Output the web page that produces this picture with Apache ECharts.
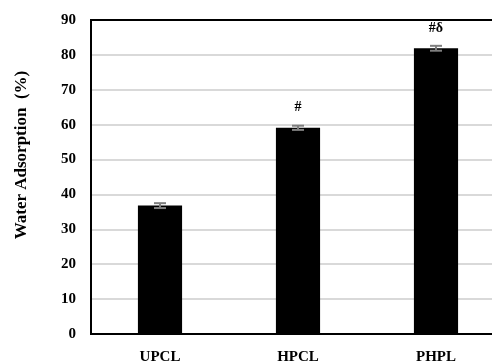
<!DOCTYPE html>
<html><head><meta charset="utf-8">
<script src="https://cdn.jsdelivr.net/npm/echarts@6/dist/echarts.min.js"></script>
<style>html,body{margin:0;padding:0;background:#fff}#c{width:492px;height:364px}</style>
</head><body><div id="c"></div>
<script>
const categories = ['UPCL', 'HPCL', 'PHPL'];
const values = [36.8, 59.1, 81.9];
const errors = [0.7, 0.6, 0.7];
const marks = ['', '#', '#δ'];
const yTicks = [0, 10, 20, 30, 40, 50, 60, 70, 80, 90];

const font = '"Liberation Serif", "Times New Roman", serif';
const chart = echarts.init(document.getElementById('c'));
chart.setOption({
  animation: false,
  grid: { left: 91, top: 20, width: 414, bottom: 30, outerBoundsMode: 'none', containLabel: false, show: true, borderColor: '#000', borderWidth: 2, backgroundColor: 'transparent', z: 3 },
  xAxis: {
    type: 'category', data: categories,
    axisLine: { show: true, lineStyle: { color: '#000', width: 2 } },
    axisTick: { show: false },
    axisLabel: { fontFamily: font, fontWeight: 'bold', fontSize: 15, color: '#000', margin: 16 }
  },
  yAxis: {
    type: 'value', min: yTicks[0], max: yTicks[yTicks.length - 1], interval: 10,
    name: 'Water Adsorption  (%)', nameLocation: 'middle', nameGap: 61,
    nameTextStyle: { fontFamily: font, fontWeight: 'bold', fontSize: 17, color: '#000', padding: [0, 0, 0, 44] },
    axisLine: { show: true, lineStyle: { color: '#000', width: 2 } },
    axisTick: { show: false },
    axisLabel: { fontFamily: font, fontWeight: 'bold', fontSize: 15, color: '#000', margin: 15 },
    splitLine: { showMaxLine: false, lineStyle: { color: '#d9d9d9', width: 2 } }
  },
  series: [
    {
      type: 'bar', data: values, barWidth: '32%',
      itemStyle: { color: '#000' },
      label: {
        show: true, position: 'top', distance: 13,
        formatter: p => marks[p.dataIndex],
        fontFamily: font, fontSize: 14, color: '#000', fontWeight: 'bold'
      }
    },
    {
      type: 'custom', z: 5,
      data: values.map((v, i) => [i, v - errors[i], v + errors[i]]),
      renderItem: function (params, api) {
        const lo = api.coord([api.value(0), api.value(1)]);
        const hi = api.coord([api.value(0), api.value(2)]);
        const x = lo[0], hw = 6;
        const st = { stroke: '#7f7f7f', lineWidth: 2 };
        return { type: 'group', children: [
          { type: 'line', shape: { x1: x, y1: lo[1], x2: x, y2: hi[1] }, style: st },
          { type: 'line', shape: { x1: x - hw, y1: lo[1], x2: x + hw, y2: lo[1] }, style: st },
          { type: 'line', shape: { x1: x - hw, y1: hi[1], x2: x + hw, y2: hi[1] }, style: st }
        ]};
      }
    }
  ]
});
</script></body></html>
